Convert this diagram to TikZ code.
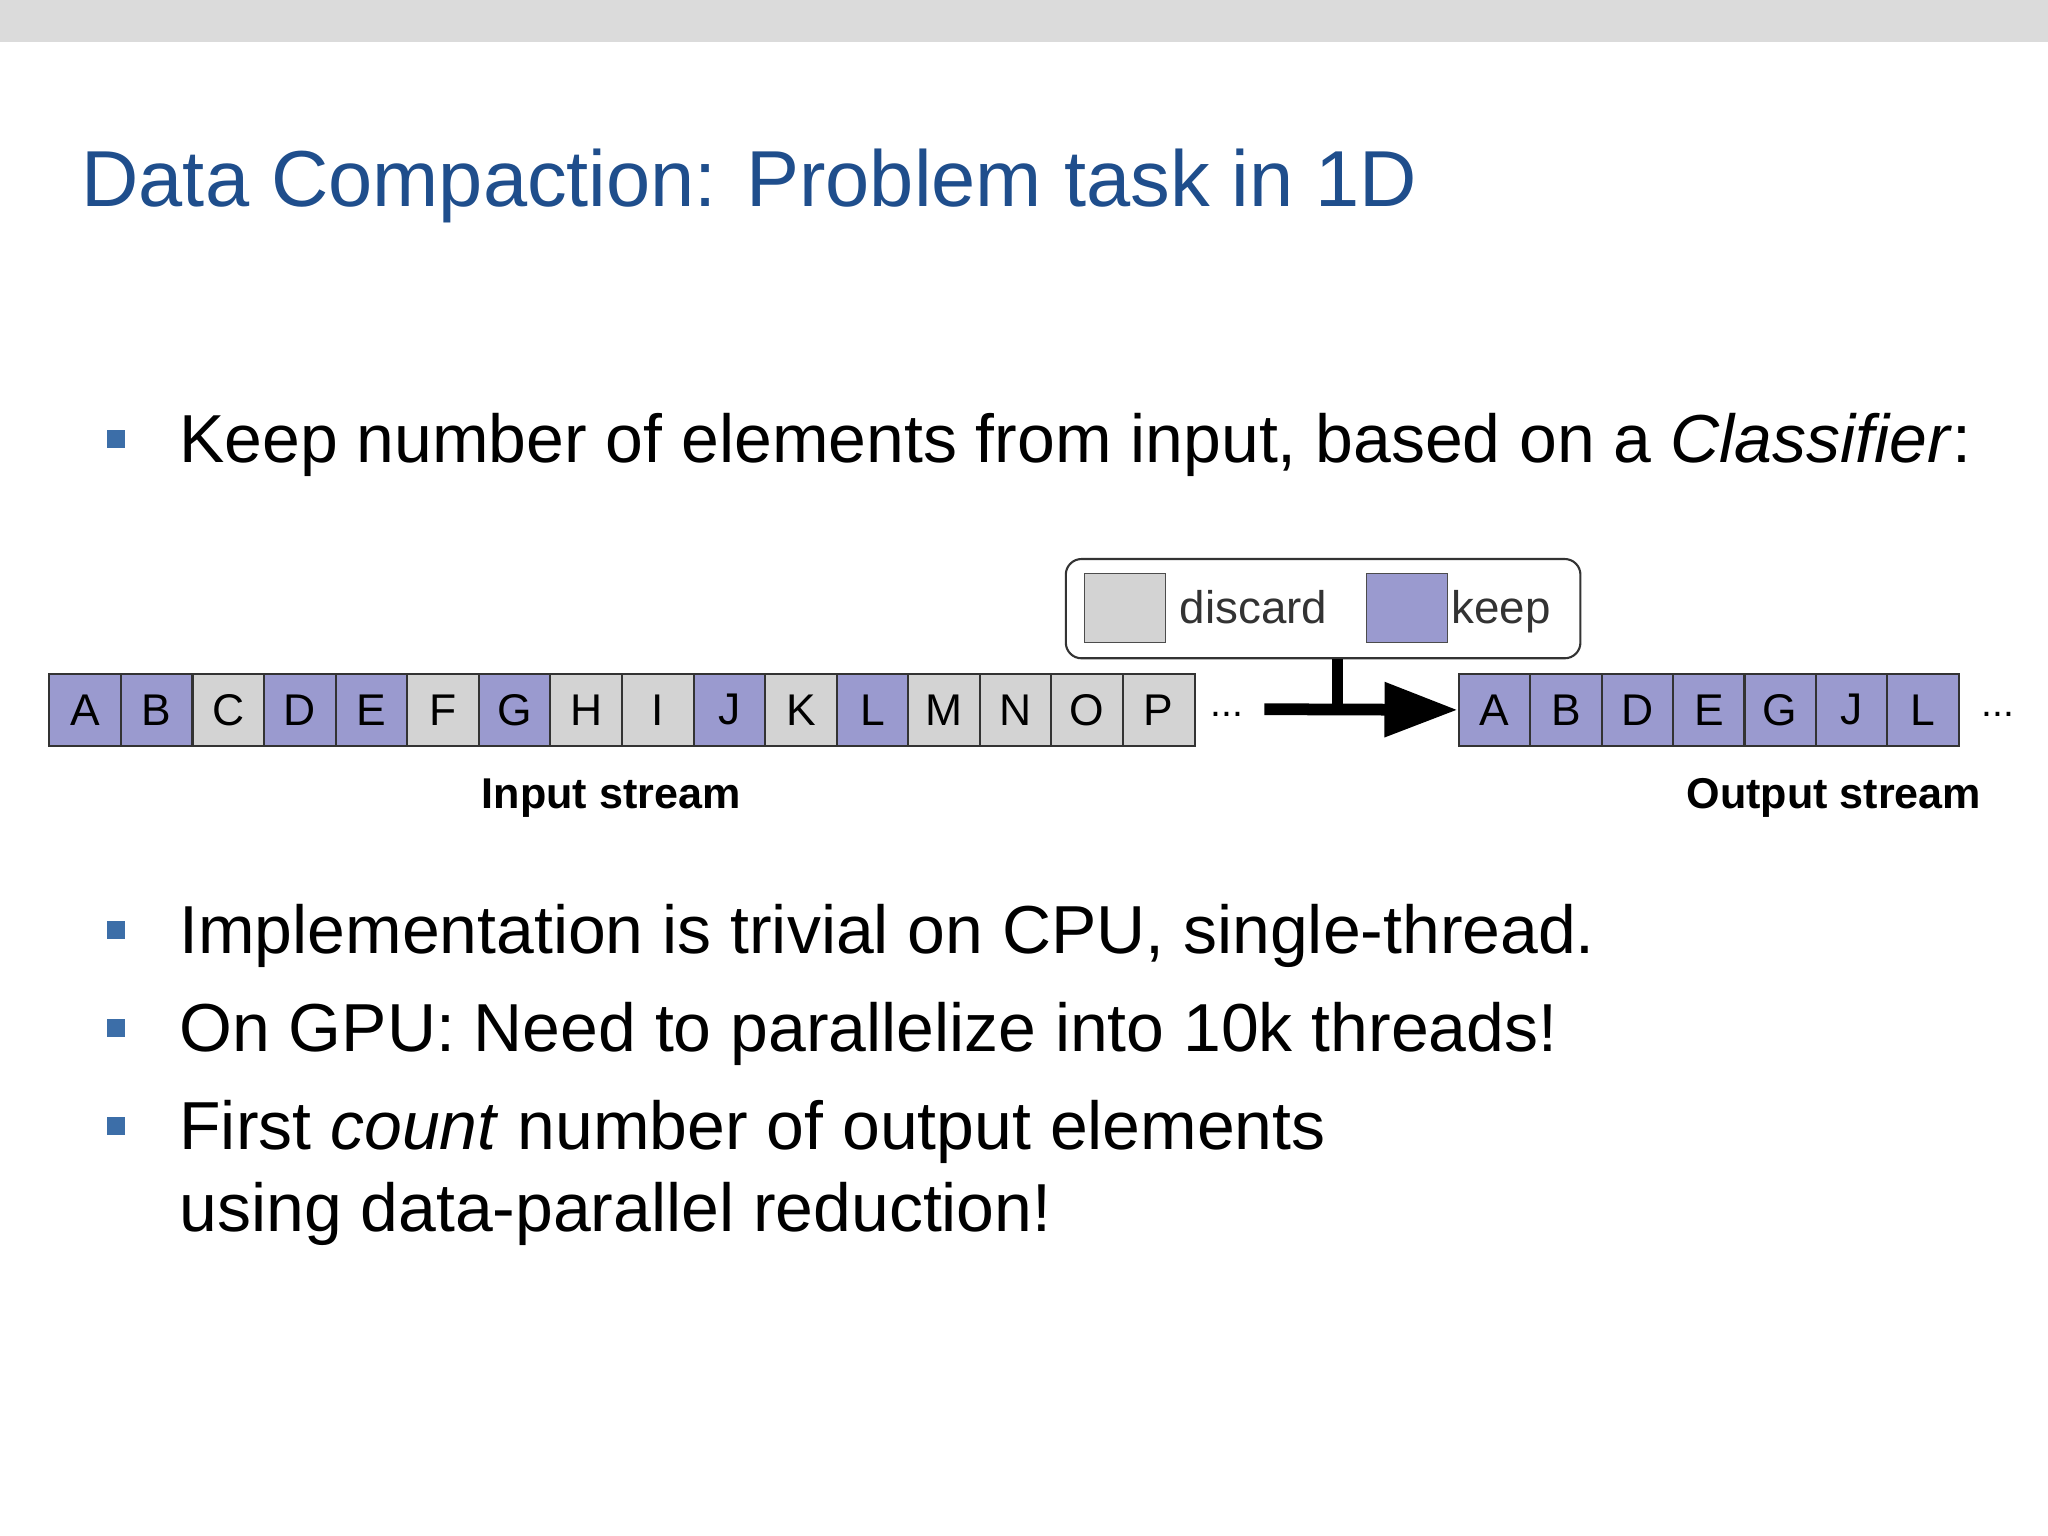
\documentclass[tikz,border=0pt]{standalone}
\usepackage{fontspec}
\setmainfont{Liberation Sans}
\usetikzlibrary{arrows.meta}
\definecolor{titleblue}{HTML}{1F4E8C}
\definecolor{keepc}{HTML}{9A9ACF}
\definecolor{discc}{HTML}{D3D3D3}
\definecolor{bulc}{HTML}{3C6EA8}
\tikzset{
 cell/.style={draw=black!80,line width=0.8pt,minimum width=27.4pt,minimum height=27.5pt,inner sep=0pt,font=\fontsize{17}{17}\selectfont,anchor=west},
 kp/.style={cell,fill=keepc},
 dc/.style={cell,fill=discc},
 bul/.style={fill=bulc,minimum size=7pt,inner sep=0pt},
 btxt/.style={anchor=base west,inner sep=0pt,font=\fontsize{26}{34}\selectfont,align=left},
 lbl/.style={anchor=base,inner sep=0pt,font=\fontsize{16.5}{16.5}\selectfont\bfseries}
}
\begin{document}
\begin{tikzpicture}[x=0.5pt,y=-0.5pt]
\useasboundingbox (0,0) rectangle (1568,1176);
\fill[white] (0,0) rectangle (1568,1176);
\fill[black!14] (0,0) rectangle (1568,32);
\node[anchor=base west,inner sep=0pt,text=titleblue,font=\fontsize{30.4}{30.4}\selectfont] (title) at (62,158) {Data Compaction: Problem task in 1D};
\node[bul] (b1) at (89,336) {};
\node[btxt] (t1) at (137,354) {Keep number of elements from input, based on a \textit{Classifier}:};
% input stream
\foreach \l/\s [count=\i from 0] in {A/kp,B/kp,C/dc,D/kp,E/kp,F/dc,G/kp,H/dc,I/dc,J/kp,K/dc,L/kp,M/dc,N/dc,O/dc,P/dc}{
  \node[\s] (in\i) at ({37+54.8*\i},543.5) {\l};
}
\node[anchor=west,font=\fontsize{15}{15}\selectfont] (dots1) at (920,547) {...};
\foreach \l [count=\i from 0] in {A,B,D,E,G,J,L}{
  \node[kp] (out\i) at ({1116+54.7*\i},543.5) {\l};
}
\node[anchor=west,font=\fontsize{15}{15}\selectfont] (dots2) at (1510,547) {...};
% legend
\node[draw=black!80,line width=0.8pt,rounded corners=6pt,minimum width=197pt,minimum height=38pt,inner sep=0pt] (leg) at (1013,466) {};
\node[draw=black!70,fill=discc,minimum width=31pt,minimum height=26.5pt,inner sep=0pt] (sw1) at (861,465.5) {};
\node[anchor=base west,inner sep=0pt,font=\fontsize{17.5}{17.5}\selectfont,text=black!80] (ld) at (903,477) {discard};
\node[draw=black!70,fill=keepc,minimum width=31pt,minimum height=26.5pt,inner sep=0pt] (sw2) at (1077,465.5) {};
\node[anchor=base west,inner sep=0pt,font=\fontsize{17.5}{17.5}\selectfont,text=black!80] (lk) at (1111,477) {keep};
% arrow
\coordinate (as) at (968,543);
\coordinate (aj) at (1024,543);
\draw[line width=4pt] (leg.south -| aj) -- (aj);
\draw[line width=4.5pt,-{Triangle[length=28pt,width=20pt]}] (as) -- (out0.west);
\node[lbl] (lin) at (468,619) {Input stream};
\node[lbl] (lout) at (1404,619) {Output stream};
% bullets
\node[bul] (b2) at (89,712) {};
\node[btxt] (t2) at (137,730) {Implementation is trivial on CPU, single-thread.};
\node[bul] (b3) at (89,787) {};
\node[btxt] (t3) at (137,805) {On GPU: Need to parallelize into 10k threads!};
\node[bul] (b4) at (89,862) {};
\node[btxt] (t4) at (137,880) {First \textit{count} number of output elements};
\node[btxt] (t5) at (137,943) {using data-parallel reduction!};
\end{tikzpicture}
\end{document}
